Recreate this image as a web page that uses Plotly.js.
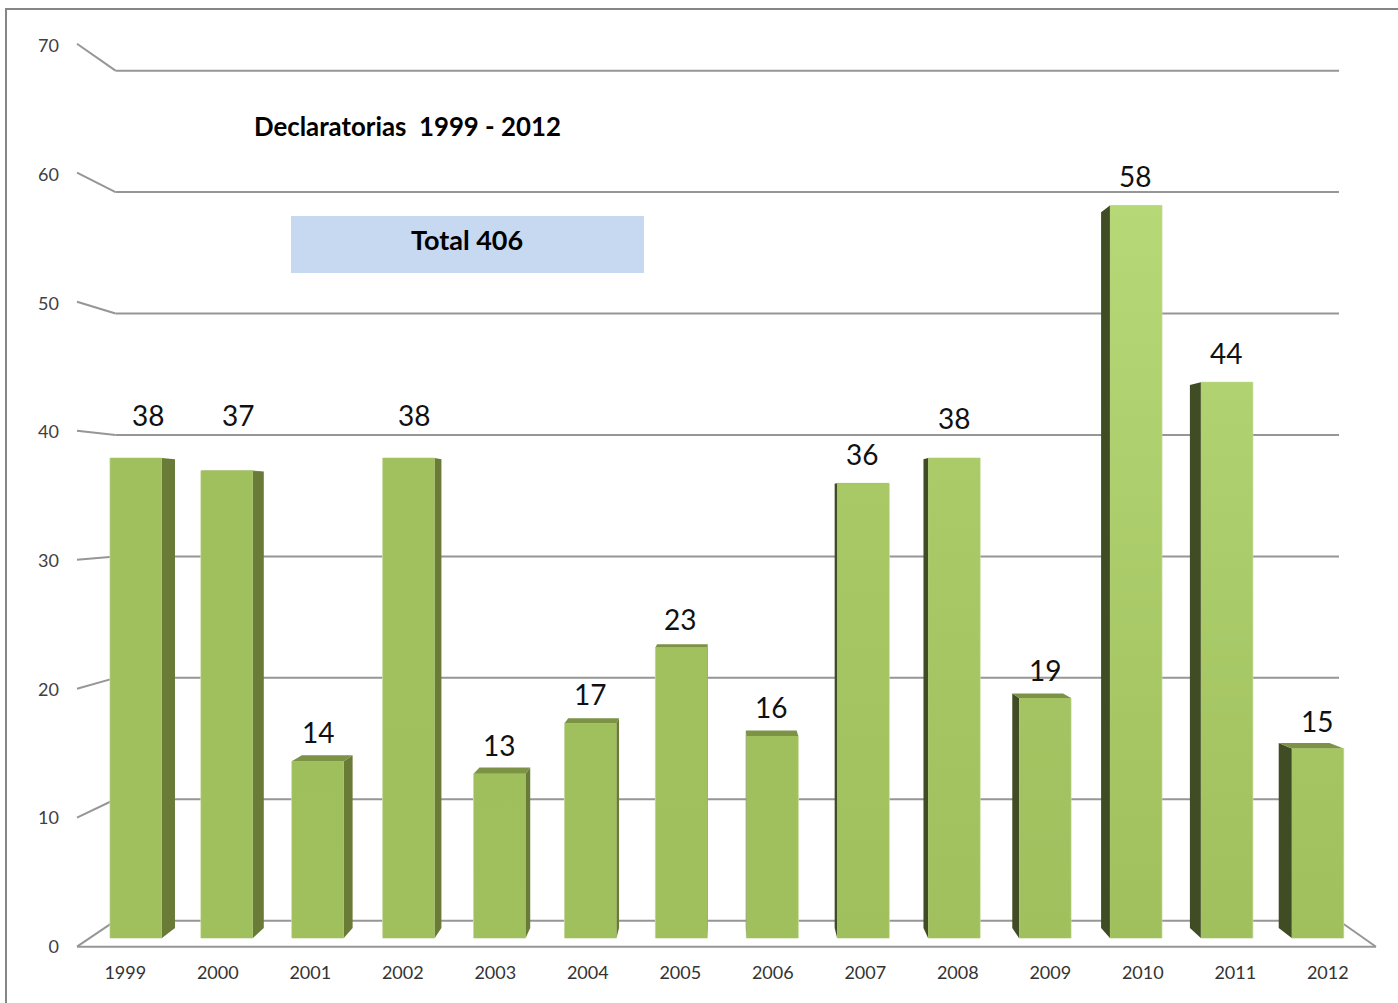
<!DOCTYPE html>
<html>
<head>
<meta charset="utf-8">
<script src="https://cdn.plot.ly/plotly-3.0.1.min.js"></script>
<style>html,body{margin:0;padding:0;background:#fff;overflow:hidden}#chart{width:1398px;height:1003px}</style>
</head>
<body>
<div id="chart"></div>
<script>
// ---- data ----
const years = [1999,2000,2001,2002,2003,2004,2005,2006,2007,2008,2009,2010,2011,2012];
const values = [38,37,14,38,13,17,23,16,36,38,19,58,44,15];
const yearLabels = ['1999','2000','2001','2002','2003','2004','2005','2006','2007','2008','2009','2010','2011','2012'];
const scaleTicks = [0,10,20,30,40,50,60,70];
const chartTitle = 'Declaratorias  1999 - 2012';
const totalLabel = 'Total 406';

// ---- styling per bar: shade of the face at the bar top ----
const barTopShade = ['#a0bf5d','#a0bf5d','#9fbe5c','#a1c05e','#9fbe5c','#a0bf5d','#a1c05e','#a0bf5d',
                     '#a8c966','#aacb68','#a4c362','#b6d876','#b0d270','#a5c563'];

// ---- label placement (pixel nudges relative to the bar top) ----
const labelShiftX = [12,11,0,5,-1,-1,-1,-1,-1,0,0,-1,-1,-1];
const labelShiftY = [43,56,29,43,29,29,29,29,29,40,28,29,29,28];

// ---- page geometry ----
const W = 1398, H = 1003;
const wallLeft = 115.5, wallRight = 1339;
const px = v => v / W, py = v => 1 - v / H;
// front plane of the bars
const frontBase = 938, frontUnit = 12.63, frontX0 = 136, frontStep = 90.9;
// back wall gridlines
const wallBase = 920.7, wallUnit = 12.143;
// scale at the front-left edge
const scaleBase = 946.7, scaleUnit = 12.9, scaleLabelUnit = 12.87, scaleX = 77, floorRight = 1376;
// year labels
const labelX0 = 125.3, labelStep = 92.5;
// perspective
const depth = 0.977, vanishValue = 34.3, vanishYear = 1999 + 6.5, halfBar = 0.286;

const axisRange = (base, unit) => [(base - H) / unit, base / unit];
const xRange = (x0, step) => [1999 - x0 / step, 1999 + (W - x0) / step];
const backX = x => vanishYear + depth * (x - vanishYear);
const backV = v => vanishValue + depth * (v - vanishValue);

// ---- 3D faces derived from the values ----
function pushPoly(a, pts) {
  pts.forEach(p => { a.x.push(p[0]); a.y.push(p[1]); });
  a.x.push(null); a.y.push(null);
}
const rightFaces = {x:[],y:[]}, leftFaces = {x:[],y:[]}, topFaces = {x:[],y:[]};
years.forEach((yr, i) => {
  const v = values[i], l = yr - halfBar, r = yr + halfBar;
  if (r < vanishYear + 0.1) pushPoly(rightFaces, [[r,0],[backX(r),backV(0)],[backX(r),backV(v)],[r,v],[r,0]]);
  if (l > vanishYear - 0.1) pushPoly(leftFaces, [[l,0],[backX(l),backV(0)],[backX(l),backV(v)],[l,v],[l,0]]);
  if (v < vanishValue + 3) pushPoly(topFaces, [[l,v],[backX(l),backV(v)],[backX(r),backV(v)],[r,v],[l,v]]);
});
const faceTrace = (f, color) => ({
  type:'scatter', mode:'lines', x:f.x, y:f.y, fill:'toself', fillcolor:color,
  line:{width:0, color:color}, cliponaxis:false, hoverinfo:'skip', showlegend:false
});
const frontFaces = years.map((yr, i) => {
  const v = values[i], l = yr - halfBar + 0.004, r = yr + halfBar - 0.004;
  return {
    type:'scatter', mode:'lines', x:[l,l,r,r,l], y:[0,v,v,0,0], fill:'toself',
    fillgradient:{type:'vertical', start:0, stop:v, colorscale:[[0,'#a0bf5d'],[1,barTopShade[i]]]},
    line:{width:0}, cliponaxis:false, hoverinfo:'skip', showlegend:false
  };
});

const traces = [
  { type:'bar', x:years, y:values, width:2*halfBar, cliponaxis:false, showlegend:false,
    marker:{color:'#a3c262', line:{color:'#c9dca3', width:1}}, hoverinfo:'skip' },
  faceTrace(rightFaces, '#6a7b38'),
  faceTrace(leftFaces, '#404c23'),
  faceTrace(topFaces, '#7c9346'),
  ...frontFaces,
  // carriers for the scale and year axes
  { type:'scatter', mode:'none', x:[years[0]], y:[0], xaxis:'x', yaxis:'y3', hoverinfo:'skip', showlegend:false },
  { type:'scatter', mode:'none', x:[years[0]], y:[0], xaxis:'x2', yaxis:'y', hoverinfo:'skip', showlegend:false }
];

const gridColor = '#969696';
const paperLine = (x0,y0,x1,y1) => ({type:'line', xref:'paper', yref:'paper', layer:'below',
  x0:px(x0), y0:py(y0), x1:px(x1), y1:py(y1), line:{color:gridColor, width:2}});
const connectors = scaleTicks.map(t => paperLine(scaleX, scaleBase - scaleUnit*t, wallLeft, wallBase - wallUnit*t));
const wallLines = scaleTicks.map(t => paperLine(wallLeft, wallBase - wallUnit*t, wallRight, wallBase - wallUnit*t));

const shapes = [
  {type:'rect', xref:'paper', yref:'paper', layer:'below', x0:px(6), y0:py(9), x1:px(W+20), y1:py(H+20),
   line:{color:'#868686', width:2}, fillcolor:'rgba(0,0,0,0)'},
  ...connectors,
  ...wallLines,
  paperLine(scaleX, scaleBase, floorRight, scaleBase),
  paperLine(wallRight, wallBase, floorRight, scaleBase),
  {type:'rect', xref:'paper', yref:'paper', layer:'below', x0:px(291), y0:py(216), x1:px(644), y1:py(273),
   line:{width:0}, fillcolor:'#c6d9f1'}
];

const font = 'Lato, Carlito, "Open Sans", sans-serif';
const annotations = years.map((yr,i) => ({
  x:yr, y:values[i], xref:'x', yref:'y', text:String(values[i]), showarrow:false,
  xanchor:'center', yanchor:'middle', xshift:labelShiftX[i], yshift:labelShiftY[i],
  font:{family:font, size:28, color:'#111111'}
}));
annotations.push(
  {x:px(407), y:py(126), xref:'paper', yref:'paper', text:'<b>'+chartTitle+'</b>', showarrow:false,
   xanchor:'center', yanchor:'middle', font:{family:font, size:25.8, color:'#000000'}},
  {x:px(466.5), y:py(239.5), xref:'paper', yref:'paper', text:'<b>'+totalLabel+'</b>', showarrow:false,
   xanchor:'center', yanchor:'middle', font:{family:font, size:27, color:'#000000'}}
);

const layout = {
  width:W, height:H, margin:{l:0,r:0,t:0,b:0,pad:0}, autosize:false,
  paper_bgcolor:'#ffffff', plot_bgcolor:'rgba(0,0,0,0)', showlegend:false, hovermode:false, dragmode:false,
  xaxis:{domain:[0,1], range:xRange(frontX0,frontStep), type:'linear',
         showgrid:false, zeroline:false, showticklabels:false, ticks:'', showline:false, anchor:'y', fixedrange:true},
  xaxis2:{overlaying:'x', domain:[0,1], range:xRange(labelX0,labelStep), type:'linear',
          anchor:'free', position:py(scaleBase), side:'bottom', tickmode:'array', tickvals:years, ticktext:yearLabels,
          ticks:'outside', ticklen:10, tickcolor:'rgba(0,0,0,0)', showgrid:false, zeroline:false, showline:false,
          tickfont:{family:font, size:18, color:'#333333'}, fixedrange:true},
  yaxis:{domain:[0,1], range:axisRange(frontBase,frontUnit), showgrid:false, zeroline:false, showticklabels:false,
         ticks:'', showline:false, fixedrange:true},
  yaxis3:{overlaying:'y', domain:[0,1], range:axisRange(scaleBase,scaleLabelUnit), anchor:'free', position:px(wallLeft), side:'left',
          tickmode:'array', tickvals:scaleTicks, ticktext:scaleTicks.map(String), ticks:'outside', ticklen:53,
          tickcolor:'rgba(0,0,0,0)', showgrid:false, zeroline:false, showline:false,
          tickfont:{family:font, size:18, color:'#404040'}, fixedrange:true},
  shapes, annotations
};
Plotly.newPlot('chart', traces, layout, {displayModeBar:false, responsive:false});
</script>
</body>
</html>
